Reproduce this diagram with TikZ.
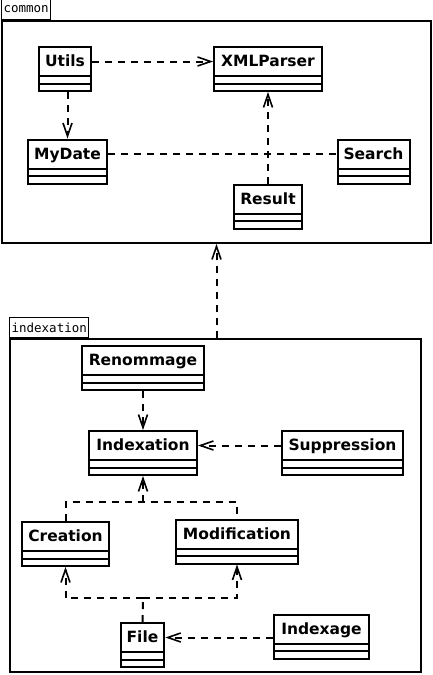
\documentclass[tikz,border=0pt]{standalone}
\usepackage{fontspec}
\usetikzlibrary{positioning, calc, arrows.meta}
\newfontfamily\classfont{DejaVu Sans}
\newfontfamily\pkgfont{DejaVu Sans Mono}
\tikzset{
    umlclass/.style={draw, line width=2pt, inner xsep=6pt, inner ysep=0pt,
        text height=19.5pt, text depth=24.5pt,
        font=\classfont\bfseries\fontsize{15.5}{18}\selectfont,
        path picture={
            \draw[line width=2pt] ([yshift=-29pt]path picture bounding box.north west) -- ([yshift=-29pt]path picture bounding box.north east);
            \draw[line width=2pt] ([yshift=-36.5pt]path picture bounding box.north west) -- ([yshift=-36.5pt]path picture bounding box.north east);
        }},
    pkgframe/.style={draw, line width=2pt, inner sep=0pt},
    pkgtab/.style={draw, line width=1.2pt, inner xsep=2pt, inner ysep=0pt, minimum height=20pt,
        anchor=south west, font=\pkgfont\fontsize{12.5}{14}\selectfont},
    dashline/.style={line width=2pt, dash pattern=on 7pt off 6pt},
    dep/.style={dashline, -{Straight Barb[length=13pt, width=9pt, line width=1.6pt]}},
}
\begin{document}
\begin{tikzpicture}[x=1pt, y=-1pt]
    \useasboundingbox (0,0) rectangle (433,675);

    % Packages
    \node[pkgframe, minimum width=429pt, minimum height=222pt] (commonpkg) at (216.5,132) {};
    \node[pkgtab] (commontab) at (commonpkg.north west) {common};
    \node[pkgframe, minimum width=411pt, minimum height=333pt] (indexpkg) at (215.5,505.5) {};
    \node[pkgtab] (indextab) at (indexpkg.north west) {indexation};

    % Package common
    \node[umlclass, minimum width=52pt] (utils) at (65,69) {Utils};
    \node[umlclass, minimum width=108pt] (xmlparser) at (268,69) {XMLParser};
    \node[umlclass, minimum width=79pt] (mydate) at (67.5,161.5) {MyDate};
    \node[umlclass, minimum width=71pt] (search) at (373.5,161.5) {Search};
    \node[umlclass, minimum width=68pt] (result) at (268,206.5) {Result};

    % Package indexation
    \node[umlclass, minimum width=122pt] (renommage) at (143,368) {Renommage};
    \node[umlclass, minimum width=108pt] (indexation) at (143,453) {Indexation};
    \node[umlclass, minimum width=121pt] (suppression) at (342.5,453) {Suppression};
    \node[umlclass, minimum width=87pt] (creation) at (65.5,544) {Creation};
    \node[umlclass, minimum width=122pt] (modification) at (237,541.5) {Modification};
    \node[umlclass, minimum width=43pt] (file) at (142.5,645) {File};
    \node[umlclass, minimum width=95pt] (indexage) at (321.5,636.5) {Indexage};

    % Dependencies in common
    \draw[dep] ([yshift=7.5pt]utils.east) -- ([yshift=7.5pt]xmlparser.west);
    \draw[dep] (mydate.north |- utils.south) -- (mydate.north);
    \draw[dashline] ([yshift=7.5pt]mydate.east) -- ([yshift=7.5pt]search.west);
    \draw[dep] (result.north) -- (xmlparser.south);

    % indexation uses common
    \draw[dep] (commonpkg.south |- indexpkg.north) -- (commonpkg.south);

    % Dependencies in indexation
    \draw[dep] (renommage.south) -- (indexation.north);
    \draw[dep] ([yshift=7.5pt]suppression.west) -- ([yshift=7.5pt]indexation.east);
    \coordinate (jup) at (143,502);
    \draw[dashline] (creation.north) |- (jup) -| (modification.north);
    \draw[dep] (jup) -- (indexation.south);
    \coordinate (jdown) at (143,598);
    \draw[dashline] (file.north) -- (jdown);
    \draw[dep] (jdown) -| (creation.south);
    \draw[dep] (jdown) -| (modification.south);
    \coordinate (filename) at ([yshift=7.5pt]file.east);
    \draw[dep] (indexage.west |- filename) -- (filename);
\end{tikzpicture}
\end{document}
